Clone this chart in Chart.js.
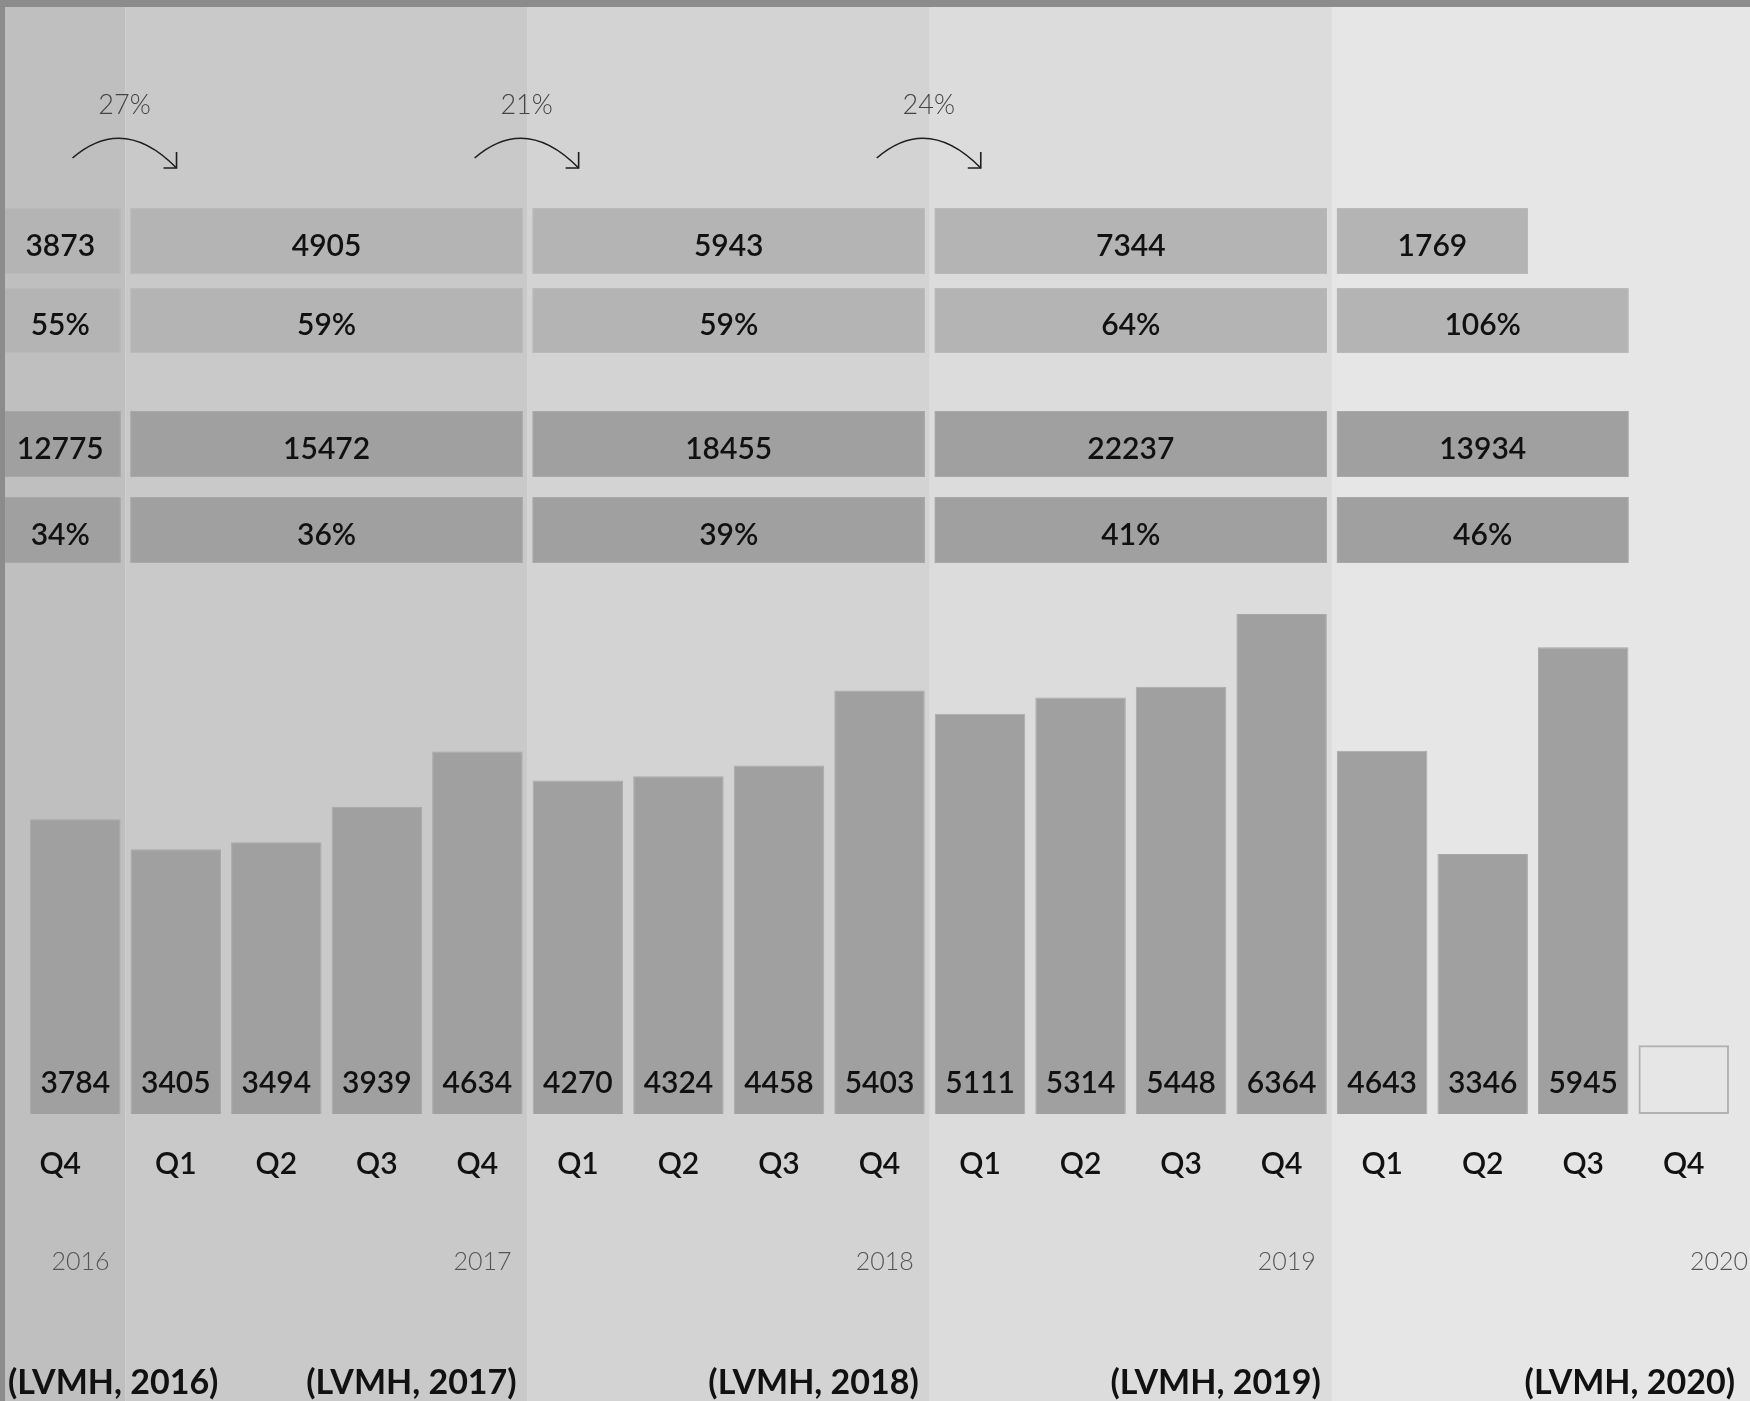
<!DOCTYPE html>
<html>
<head>
<meta charset="utf-8">
<title>LVMH quarterly</title>
<script src="https://cdn.jsdelivr.net/npm/chart.js@4.4.1/dist/chart.umd.min.js"></script>
<style>
  html, body { margin: 0; padding: 0; background: #e6e6e6; }
  canvas { display: block; }
</style>
</head>
<body>
<canvas id="chart" width="1750" height="1401"></canvas>
<script>
// quarters from Q4 2016 to Q4 2020
const quarters = ['Q4', 'Q1', 'Q2', 'Q3', 'Q4', 'Q1', 'Q2', 'Q3', 'Q4', 'Q1', 'Q2', 'Q3', 'Q4', 'Q1', 'Q2', 'Q3', 'Q4'];
const revenue = [3784, 3405, 3494, 3939, 4634, 4270, 4324, 4458, 5403, 5111, 5314, 5448, 6364, 4643, 3346, 5945, null];
// Q4 2020 not published yet -> empty outline box
const pending = [null, null, null, null, null, null, null, null, null, null, null, null, null, null, null, null, 940];

const years = ['2016', '2017', '2018', '2019', '2020'];
const yearFirst = [0, 1, 5, 9, 13];
const yearLast = [0, 4, 8, 12, 16];
const sources = ['(LVMH, 2016)', '(LVMH, 2017)', '(LVMH, 2018)', '(LVMH, 2019)', '(LVMH, 2020)'];

// yearly figures in the strips above the bars
const rowA = [3873, 4905, 5943, 7344, 1769];
const rowALast = [0, 4, 8, 12, 14];
const rowB = [55, 59, 59, 64, 106];
const rowC = [12775, 15472, 18455, 22237, 13934];
const rowD = [34, 36, 39, 41, 46];
const rowLast = [0, 4, 8, 12, 15];

// growth between consecutive years
const growth = [27, 21, 24];

const bandColors = ['#bfbfbf', '#c9c9c9', '#d3d3d3', '#dcdcdc', '#e6e6e6'];
const font = 'Lato, "Open Sans", sans-serif';
const numberFont = '600 30px ' + font;

const decorations = {
	id: 'decorations',
	beforeDraw(chart) {
		const { ctx, width, height } = chart;
		const x = chart.scales.x;
		const step = x.getPixelForValue(1) - x.getPixelForValue(0);
		const halfBar = step * 0.45;
		ctx.save();

		// one background band per year
		years.forEach((_, i) => {
			const left = i === 0 ? 0 : x.getPixelForValue(yearFirst[i]) - step / 2;
			const right = i === years.length - 1 ? width : x.getPixelForValue(yearLast[i]) + step / 2;
			ctx.fillStyle = bandColors[i];
			ctx.fillRect(left, 0, right - left, height);
		});

		// strips of yearly numbers
		const drawRow = (values, lasts, top, bottom, fill, edge, suffix) => {
			values.forEach((v, i) => {
				const left = i === 0 ? 0 : x.getPixelForValue(yearFirst[i]) - halfBar;
				const right = x.getPixelForValue(lasts[i]) + halfBar;
				ctx.fillStyle = fill;
				ctx.fillRect(left, top, right - left, bottom - top);
				ctx.strokeStyle = edge;
				ctx.lineWidth = 1;
				ctx.strokeRect(left + 0.5, top + 0.5, right - left - 1, bottom - top - 1);
				ctx.fillStyle = '#111';
				ctx.font = numberFont;
				ctx.textAlign = 'center';
				ctx.textBaseline = 'middle';
				ctx.fillText(v + suffix, (left + right) / 2, (top + bottom) / 2 + 5);
			});
		};
		drawRow(rowA, rowALast, 208, 274, '#b4b4b4', '#bababa', '');
		drawRow(rowB, rowLast, 288, 353, '#b4b4b4', '#bababa', '%');
		drawRow(rowC, rowLast, 411, 477, '#a0a0a0', '#a8a8a8', '');
		drawRow(rowD, rowLast, 497, 563, '#a0a0a0', '#a8a8a8', '%');

		// curved growth arrows across year boundaries
		growth.forEach((g, i) => {
			const b = x.getPixelForValue(yearLast[i]) + step / 2;
			ctx.strokeStyle = '#1e1e1e';
			ctx.lineWidth = 1.6;
			ctx.beginPath();
			ctx.moveTo(b - 53, 158);
			ctx.quadraticCurveTo(b - 2, 114, b + 51, 168);
			ctx.stroke();
			ctx.beginPath();
			ctx.moveTo(b + 38, 168);
			ctx.lineTo(b + 51, 168);
			ctx.lineTo(b + 51, 152);
			ctx.stroke();
			ctx.fillStyle = '#444';
			ctx.font = '300 27px ' + font;
			ctx.textAlign = 'center';
			ctx.textBaseline = 'middle';
			ctx.fillText(g + '%', b - 1, 105);
		});
		ctx.restore();
	},
	afterDatasetsDraw(chart) {
		const { ctx, width } = chart;
		const x = chart.scales.x;
		const step = x.getPixelForValue(1) - x.getPixelForValue(0);
		const base = chart.chartArea.bottom;
		ctx.save();
		ctx.fillStyle = '#111';
		ctx.textAlign = 'center';
		ctx.textBaseline = 'middle';

		// values at the foot of each bar
		ctx.font = numberFont;
		revenue.forEach((v, i) => {
			if (v !== null) ctx.fillText(v, x.getPixelForValue(i), base - 31);
		});

		// quarter labels; the first one sits in the narrow 2016 band
		quarters.forEach((q, i) => {
			const cx = i === 0 ? (x.getPixelForValue(0) + step * 0.45) / 2 : x.getPixelForValue(i);
			ctx.fillText(q, cx, 1164);
		});

		// year labels, thin
		ctx.font = '300 25px ' + font;
		ctx.fillStyle = '#555';
		ctx.textAlign = 'right';
		years.forEach((y, i) => {
			const right = i === years.length - 1 ? width - 2 : x.getPixelForValue(yearLast[i]) + step * 0.45 - 11;
			ctx.fillText(y, right, 1262);
		});

		// sources
		ctx.font = 'bold 34px ' + font;
		ctx.fillStyle = '#111';
		sources.forEach((s, i) => {
			if (i === 0) {
				ctx.textAlign = 'left';
				ctx.fillText(s, 8, 1383);
			} else {
				ctx.textAlign = 'right';
				const end = i === sources.length - 1 ? width - 15 : x.getPixelForValue(yearLast[i]) + step / 2 - 11;
				ctx.fillText(s, end, 1383);
			}
		});

		// frame on top and left
		ctx.fillStyle = '#8c8c8c';
		ctx.fillRect(0, 0, width, 7);
		ctx.fillRect(0, 0, 5, chart.height);
		ctx.restore();
	}
};

new Chart(document.getElementById('chart'), {
	type: 'bar',
	data: {
		labels: quarters,
		datasets: [
			{ data: revenue, backgroundColor: '#a0a0a0', borderColor: '#a9a9a9', borderWidth: 1 },
			{ data: pending, base: 75, backgroundColor: 'rgba(0,0,0,0)', borderColor: '#b2b2b2', borderWidth: 2, borderSkipped: false },
		],
	},
	options: {
		responsive: false,
		animation: false,
		devicePixelRatio: 1,
		layout: { padding: { left: 25, right: 16, top: 7, bottom: 287 } },
		datasets: { bar: { grouped: false, barPercentage: 0.9, categoryPercentage: 1 } },
		scales: {
			x: { display: false },
			y: { display: false, min: 75, max: 14000 },
		},
		plugins: {
			legend: { display: false },
			tooltip: { enabled: false },
		},
	},
	plugins: [decorations],
});
</script>
</body>
</html>
